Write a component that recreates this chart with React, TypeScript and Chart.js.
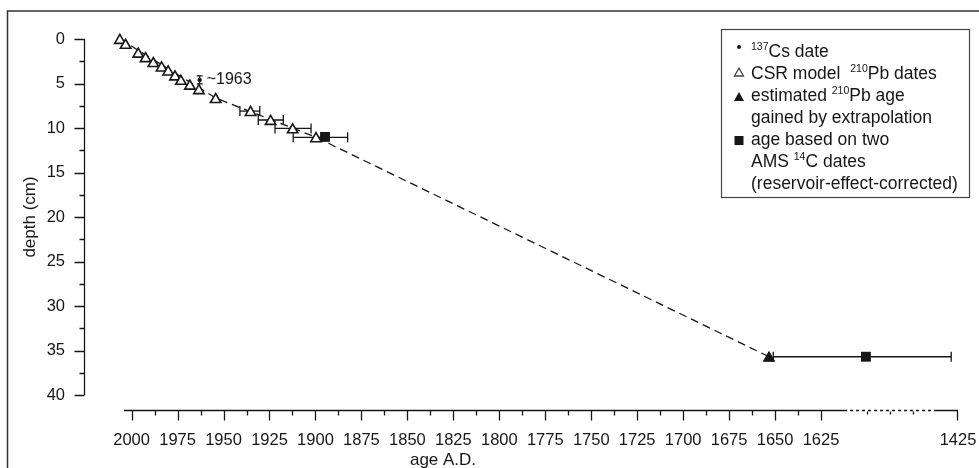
import React, { useEffect, useRef } from 'react';
import { Chart, registerables } from 'chart.js';
Chart.register(...registerables);

// ---- data (x in displayed axis years, y in depth cm) ----
const csrYears = [2006.4, 2003.3, 1996.4, 1992.4, 1988.2, 1983.7, 1980.1, 1976.4, 1973.2, 1968.3, 1963.4, 1954.3, 1935.3, 1924.4, 1912.4, 1899.7];
const csrDepths = [0.15, 0.7, 1.7, 2.2, 2.75, 3.25, 3.7, 4.25, 4.75, 5.3, 5.8, 6.8, 8.25, 9.25, 10.2, 11.2];
const csrErrYoung = [null, null, null, null, null, null, null, null, null, null, null, null, 1941.1, 1931.1, 1922.0, 1912.1];
const csrErrOld = [null, null, null, null, null, null, null, null, null, null, null, null, 1930.3, 1917.5, 1902.4, 1882.5];

const csYears = [1963];
const csDepths = [4.6];
const csDepthErr = [0.45];

const extrapYears = [1653.3];
const extrapDepths = [35.85];

const amsYears = [1894.8, 1600.6];
const amsDepths = [11.0, 35.7];
const amsErrYoung = [null, 1651.0];
const amsErrOld = [null, 1554.2];

const modelYears = [2006.4, 1954.3, 1899.7, 1653.3];
const modelDepths = [0.0, 6.63, 11.04, 35.7];

const xTickYears = [2000, 1975, 1950, 1925, 1900, 1875, 1850, 1825, 1800, 1775, 1750, 1725, 1700, 1675, 1650, 1625];
const breakTickPosition = 1550.5;
const breakTickLabel = '1425';
const yTicks = [0, 5, 10, 15, 20, 25, 30, 35, 40];

const FONT = '"Liberation Sans", Arial, sans-serif';
const INK = '#161616';

function drawSegments(ctx: CanvasRenderingContext2D, x: number, y: number, segs: { t: string; sup?: boolean }[]) {
  let cx = x;
  ctx.textBaseline = 'middle';
  ctx.textAlign = 'left';
  for (const s of segs) {
    if (s.sup) {
      ctx.font = `10.5px ${FONT}`;
      ctx.fillText(s.t, cx, y - 5);
    } else {
      ctx.font = `17.5px ${FONT}`;
      ctx.fillText(s.t, cx, y);
    }
    cx += ctx.measureText(s.t).width;
  }
}

const extrasPlugin = {
  id: 'extras',
  beforeDatasetsDraw(chart: any) {
    const ctx = chart.ctx;
    const xs = chart.scales.x, ys = chart.scales.y;
    ctx.save();
    ctx.strokeStyle = INK;
    ctx.lineWidth = 1.3;
    const hbar = (y0: number, a: number, b: number) => {
      const py = ys.getPixelForValue(y0);
      const pa = xs.getPixelForValue(a), pb = xs.getPixelForValue(b);
      ctx.beginPath();
      ctx.moveTo(pa, py); ctx.lineTo(pb, py);
      ctx.moveTo(pa, py - 5); ctx.lineTo(pa, py + 5);
      ctx.moveTo(pb, py - 5); ctx.lineTo(pb, py + 5);
      ctx.stroke();
    };
    csrYears.forEach((_, i) => {
      if (csrErrYoung[i] != null && csrErrOld[i] != null) hbar(csrDepths[i] - 0.15, csrErrYoung[i] as number, csrErrOld[i] as number);
    });
    amsYears.forEach((_, i) => {
      if (amsErrYoung[i] != null && amsErrOld[i] != null) hbar(amsDepths[i], amsErrYoung[i] as number, amsErrOld[i] as number);
    });
    csYears.forEach((yr, i) => {
      const px = xs.getPixelForValue(yr);
      const p1 = ys.getPixelForValue(csDepths[i] - csDepthErr[i]);
      const p2 = ys.getPixelForValue(csDepths[i] + csDepthErr[i]);
      ctx.beginPath();
      ctx.moveTo(px, p1); ctx.lineTo(px, p2);
      ctx.moveTo(px - 3, p1); ctx.lineTo(px + 3, p1);
      ctx.moveTo(px - 3, p2); ctx.lineTo(px + 3, p2);
      ctx.stroke();
    });
    ctx.restore();
  },
  afterDraw(chart: any) {
    const ctx = chart.ctx;
    const xs = chart.scales.x, ys = chart.scales.y;
    ctx.save();
    // outer frame
    ctx.strokeStyle = '#333';
    ctx.lineWidth = 1.5;
    ctx.beginPath();
    ctx.moveTo(7.5, 468); ctx.lineTo(7.5, 11); ctx.lineTo(979, 11);
    ctx.stroke();

    ctx.strokeStyle = INK;
    ctx.lineWidth = 1.3;
    // y axis
    const ax = 84.5;
    ctx.beginPath();
    ctx.moveTo(ax, ys.getPixelForValue(0)); ctx.lineTo(ax, ys.getPixelForValue(40));
    for (let d = 0; d <= 40; d += 2.5) {
      const py = Math.round(ys.getPixelForValue(d)) + 0.5;
      const len = d % 5 === 0 ? 10 : 5;
      ctx.moveTo(ax - len, py); ctx.lineTo(ax, py);
    }
    ctx.stroke();

    // x axis
    const ay = 410.5;
    const xStart = xs.getPixelForValue(2004.2);
    const xSolidEnd = xs.getPixelForValue(1612.5);
    const xDotEnd = xs.getPixelForValue(1562.5);
    const xEnd = xs.getPixelForValue(breakTickPosition);
    ctx.beginPath();
    ctx.moveTo(xStart, ay); ctx.lineTo(xSolidEnd, ay);
    ctx.moveTo(xDotEnd, ay); ctx.lineTo(xEnd, ay);
    for (const yr of xTickYears) {
      const px = Math.round(xs.getPixelForValue(yr)) + 0.5;
      ctx.moveTo(px, ay); ctx.lineTo(px, ay + 10);
    }
    for (let yr = 1987.5; yr > 1625; yr -= 25) {
      const px = Math.round(xs.getPixelForValue(yr)) + 0.5;
      ctx.moveTo(px, ay); ctx.lineTo(px, ay + 5);
    }
    const pxB = Math.round(xEnd) - 0.5;
    ctx.moveTo(pxB, ay); ctx.lineTo(pxB, ay + 10);
    ctx.stroke();
    ctx.setLineDash([3, 3]);
    ctx.beginPath();
    ctx.moveTo(xSolidEnd, ay); ctx.lineTo(xDotEnd, ay);
    for (const yr of [1600, 1587.5, 1575]) {
      const px = Math.round(xs.getPixelForValue(yr)) + 0.5;
      ctx.moveTo(px, ay + 1); ctx.lineTo(px, ay + 6);
    }
    ctx.stroke();
    ctx.setLineDash([]);

    // texts
    ctx.fillStyle = INK;
    ctx.font = `17px ${FONT}`;
    ctx.textAlign = 'center';
    ctx.textBaseline = 'middle';
    ctx.fillText('age A.D.', 443, 460);
    ctx.font = `16px ${FONT}`;
    ctx.textAlign = 'left';
    ctx.fillText('~1963', xs.getPixelForValue(csYears[0]) + 7, ys.getPixelForValue(csDepths[0]));

    // legend
    const L = 721, T = 29, R = 969, B = 197;
    ctx.strokeStyle = '#444';
    ctx.lineWidth = 1.2;
    ctx.strokeRect(L + 0.5, T + 0.5, R - L, B - T);
    const sx = 739, tx = 751;
    const lh = 22;
    const y0 = 52;
    const ly = (i: number) => y0 + i * lh;
    // symbols
    ctx.fillStyle = INK;
    ctx.beginPath(); ctx.arc(sx, ly(0) - 5, 2, 0, Math.PI * 2); ctx.fill();
    ctx.lineWidth = 1.3;
    ctx.beginPath();
    ctx.moveTo(sx, ly(1) - 6); ctx.lineTo(sx + 4.5, ly(1) + 2); ctx.lineTo(sx - 4.5, ly(1) + 2); ctx.closePath();
    ctx.stroke();
    ctx.beginPath();
    ctx.moveTo(sx, ly(2) - 4); ctx.lineTo(sx + 5, ly(2) + 5); ctx.lineTo(sx - 5, ly(2) + 5); ctx.closePath();
    ctx.fill();
    ctx.fillRect(sx - 4.5, ly(4) - 4, 9, 9);
    drawSegments(ctx, tx, ly(0), [{ t: '137', sup: true }, { t: 'Cs date' }]);
    drawSegments(ctx, tx, ly(1), [{ t: 'CSR model  ' }, { t: '210', sup: true }, { t: 'Pb dates' }]);
    drawSegments(ctx, tx, ly(2), [{ t: 'estimated ' }, { t: '210', sup: true }, { t: 'Pb age' }]);
    drawSegments(ctx, tx, ly(3), [{ t: 'gained by extrapolation' }]);
    drawSegments(ctx, tx, ly(4), [{ t: 'age based on two' }]);
    drawSegments(ctx, tx, ly(5), [{ t: 'AMS ' }, { t: '14', sup: true }, { t: 'C dates' }]);
    drawSegments(ctx, tx, ly(6), [{ t: '(reservoir-effect-corrected)' }]);
    ctx.restore();
  },
};

export default function App() {
  const ref = useRef<HTMLCanvasElement | null>(null);
  useEffect(() => {
    if (!ref.current) return;
    const pts = (xa: number[], ya: number[]) => xa.map((x, i) => ({ x, y: ya[i] }));
    const chart = new Chart(ref.current, {
      type: 'scatter',
      data: {
        datasets: [
          {
            type: 'line',
            label: 'model',
            data: pts(modelYears, modelDepths),
            borderColor: INK,
            borderWidth: 1.3,
            borderDash: [8, 5],
            pointRadius: 0,
            fill: false,
            order: 5,
          } as any,
          {
            label: 'CSR',
            data: pts(csrYears, csrDepths),
            pointStyle: 'triangle',
            pointRadius: 6,
            backgroundColor: '#ffffff',
            borderColor: INK,
            borderWidth: 1.6,
            order: 1,
          },
          {
            label: 'Cs',
            data: pts(csYears, csDepths),
            pointStyle: 'circle',
            pointRadius: 2.2,
            backgroundColor: INK,
            borderColor: INK,
            borderWidth: 0,
            order: 1,
          },
          {
            label: 'extrap',
            data: pts(extrapYears, extrapDepths),
            pointStyle: 'triangle',
            pointRadius: 6.5,
            backgroundColor: INK,
            borderColor: INK,
            borderWidth: 1,
            order: 1,
          },
          {
            label: 'AMS',
            data: pts(amsYears, amsDepths),
            pointStyle: 'rect',
            pointRadius: 7,
            backgroundColor: INK,
            borderColor: INK,
            borderWidth: 0,
            order: 0,
          },
        ],
      },
      options: {
        animation: false,
        responsive: false,
        clip: false as any,
        layout: { padding: { top: 39, right: 21, bottom: 0, left: 0 } },
        plugins: { legend: { display: false }, tooltip: { enabled: false } },
        scales: {
          x: {
            type: 'linear',
            reverse: true,
            min: breakTickPosition,
            max: 2025.9,
            border: { display: false },
            grid: { display: false, drawTicks: false },
            afterBuildTicks: (scale: any) => {
              scale.ticks = [...xTickYears, breakTickPosition].map((v) => ({ value: v }));
            },
            afterFit: (scale: any) => {
              scale.height = 73;
              scale.paddingLeft = 0;
              scale.paddingRight = 0;
            },
            ticks: {
              autoSkip: false,
              maxRotation: 0,
              padding: 36,
              color: INK,
              font: { size: 16.5, family: FONT },
              callback: (v: any) => (v === breakTickPosition ? breakTickLabel : String(v)),
            },
          },
          y: {
            type: 'linear',
            reverse: true,
            min: 0,
            max: 40,
            border: { display: false },
            grid: { display: false, drawTicks: false },
            afterBuildTicks: (scale: any) => {
              scale.ticks = yTicks.map((v) => ({ value: v }));
            },
            afterFit: (scale: any) => {
              scale.width = 84;
              scale.paddingTop = 0;
              scale.paddingBottom = 0;
            },
            ticks: {
              padding: 19,
              color: INK,
              font: { size: 16.5, family: FONT },
            },
            title: {
              display: true,
              text: 'depth (cm)',
              color: INK,
              font: { size: 17, family: FONT },
              padding: { top: 20, bottom: 0 },
            },
          },
        },
      },
      plugins: [extrasPlugin],
    });
    return () => chart.destroy();
  }, []);
  return (
    <canvas
      ref={ref}
      width={979}
      height={468}
      style={{ position: 'fixed', left: 0, top: 0, width: 979, height: 468, display: 'block', background: '#fff' }}
    />
  );
}
